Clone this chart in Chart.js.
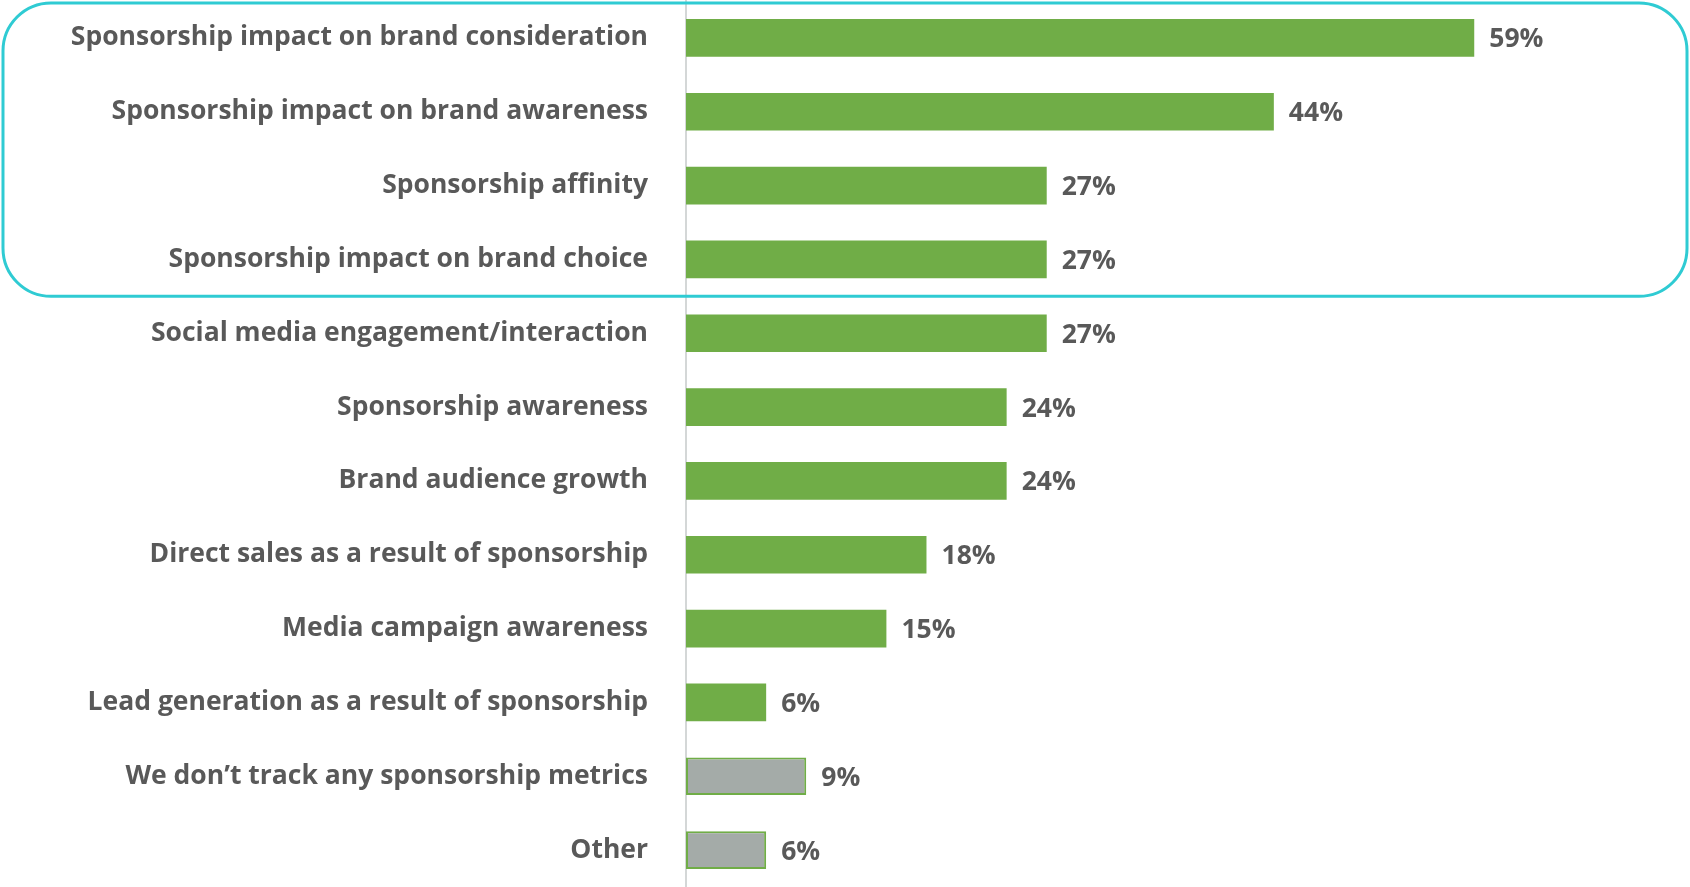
<!DOCTYPE html>
<html>
<head>
<meta charset="utf-8">
<script src="https://cdn.jsdelivr.net/npm/chart.js@4.4.0/dist/chart.umd.min.js"></script>
<style>
  html, body { margin: 0; padding: 0; background: #fff; }
  #wrap { width: 1690px; height: 887px; position: relative; }
</style>
</head>
<body>
<div id="wrap"><canvas id="myChart"></canvas></div>
<script>
// metrics used to measure sponsorship, share of respondents (%)
const metrics = [
  'Sponsorship impact on brand consideration',
  'Sponsorship impact on brand awareness',
  'Sponsorship affinity',
  'Sponsorship impact on brand choice',
  'Social media engagement/interaction',
  'Sponsorship awareness',
  'Brand audience growth',
  'Direct sales as a result of sponsorship',
  'Media campaign awareness',
  'Lead generation as a result of sponsorship',
  'We don\u2019t track any sponsorship metrics',
  'Other'
];
const shares = [59, 44, 27, 27, 27, 24, 24, 18, 15, 6, 9, 6];
// last two answers are not real metrics, shown in grey
const greyed = [false, false, false, false, false, false, false, false, false, false, true, true];

const GREEN = '#70AD47';
const GREY = '#A4ABA8';
const TEXT = '#595959';
const FONT = '"Open Sans", sans-serif';
const FONT_SIZE = 26.5;

// value labels at the end of each bar
const valueLabels = {
  id: 'valueLabels',
  afterDatasetsDraw(chart) {
    const ctx = chart.ctx;
    const meta = chart.getDatasetMeta(0);
    ctx.save();
    ctx.font = 'bold ' + FONT_SIZE + 'px ' + FONT;
    ctx.fillStyle = TEXT;
    ctx.textAlign = 'left';
    ctx.textBaseline = 'middle';
    meta.data.forEach((bar, i) => {
      ctx.fillText(shares[i] + '%', bar.x + 15, bar.y + 2);
    });
    ctx.restore();
  }
};

// rounded frame around the four brand-impact metrics
const highlightBox = {
  id: 'highlightBox',
  afterDraw(chart) {
    const ctx = chart.ctx;
    const y = chart.scales.y;
    const top = 3;
    const bottom = y.getPixelForValue(3.5);
    const left = 3, right = chart.width - 3, r = 48;
    ctx.save();
    ctx.strokeStyle = '#2FCBD3';
    ctx.lineWidth = 3;
    ctx.beginPath();
    ctx.roundRect(left, top, right - left, bottom - top, r);
    ctx.stroke();
    ctx.restore();
  }
};

let metricsChart;

function drawChart() {
  const ctx = document.getElementById('myChart').getContext('2d');
  if (metricsChart) {
    metricsChart.destroy();
  }
  metricsChart = new Chart(ctx, {
    type: 'bar',
    data: {
      labels: metrics,
      datasets: [{
        data: shares,
        backgroundColor: greyed.map(g => g ? GREY : GREEN),
        borderColor: GREEN,
        borderWidth: greyed.map(g => g ? 2 : 0),
        borderSkipped: false,
        categoryPercentage: 1,
        barPercentage: 0.51
      }]
    },
    options: {
      indexAxis: 'y',
      responsive: true,
      maintainAspectRatio: false,
      animation: false,
      layout: { padding: { top: 1, right: 2, bottom: -2, left: 0 } },
      plugins: {
        legend: { display: false },
        tooltip: { enabled: false }
      },
      scales: {
        x: {
          display: false,
          min: 0,
          max: 75
        },
        y: {
          // fixed label column, and no extra room above/below the rows
          afterFit(scale) {
            scale.width = 686;
            scale.paddingTop = 0;
            scale.paddingBottom = 0;
          },
          grid: { display: false, drawTicks: false },
          border: { display: true, color: '#D4D7D7', width: 2 },
          ticks: {
            padding: 38,
            color: TEXT,
            font: { family: FONT, size: FONT_SIZE, weight: 'bold' }
          }
        }
      }
    },
    plugins: [valueLabels, highlightBox]
  });
}

drawChart();
</script>
</body>
</html>
